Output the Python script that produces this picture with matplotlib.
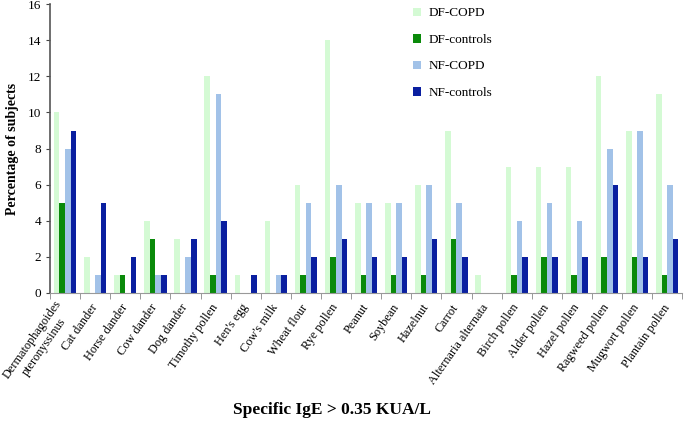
import matplotlib
matplotlib.use("Agg")
import matplotlib.pyplot as plt
import numpy as np

allergens = ["Dermatophagoides\npteronyssinus", "Cat dander", "Horse dander", "Cow dander",
             "Dog dander", "Timothy pollen", "Hen's egg", "Cow's milk", "Wheat flour",
             "Rye pollen", "Peanut", "Soybean", "Hazelnut", "Carrot", "Alternaria alternata",
             "Birch pollen", "Alder pollen", "Hazel pollen", "Ragweed pollen",
             "Mugwort pollen", "Plantain pollen"]
df_copd = [10, 2, 1, 4, 3, 12, 1, 4, 6, 14, 5, 5, 6, 9, 1, 7, 7, 7, 12, 9, 11]
df_controls = [5, 0, 1, 3, 0, 1, 0, 0, 1, 2, 1, 1, 1, 3, 0, 1, 2, 1, 2, 2, 1]
nf_copd = [8, 1, 0, 1, 2, 11, 0, 1, 5, 6, 5, 5, 6, 5, 0, 4, 5, 4, 8, 9, 6]
nf_controls = [9, 5, 2, 1, 3, 4, 1, 1, 2, 3, 2, 2, 3, 2, 0, 2, 2, 2, 6, 2, 3]

series = [("DF-COPD", df_copd, "#d4fad4"),
          ("DF-controls", df_controls, "#0a8a0a"),
          ("NF-COPD", nf_copd, "#a2c2e8"),
          ("NF-controls", nf_controls, "#0a1fa0")]

plt.rcParams["font.family"] = "Liberation Serif"

fig = plt.figure(figsize=(6.85, 4.25), dpi=100)
ax = fig.add_axes([0.073, 0.311, 0.923, 0.679])

x = np.arange(len(allergens))
w = 0.185
for i, (name, vals, col) in enumerate(series):
    ax.bar(x + (i - 1.5) * w, vals, w, color=col, label=name)

ax.set_xlim(-0.5, len(allergens) - 0.5)
ax.set_ylim(0, 16)
ax.set_yticks(np.arange(0, 17, 2))
ax.tick_params(axis="y", labelsize=9.5, length=3, color="#444444")

ax.set_xticks(x)
ax.set_xticklabels(allergens, rotation=55, ha="right", va="center",
                   rotation_mode="anchor", fontsize=8.8, multialignment="center")
ax.tick_params(axis="x", length=0, pad=9)
ax.set_xticks(np.arange(-0.5, len(allergens), 1), minor=True)
ax.tick_params(axis="x", which="minor", length=4, color="#888888")

for s in ["top", "right"]:
    ax.spines[s].set_visible(False)
ax.spines["left"].set_color("#555555")
ax.spines["left"].set_linewidth(1.2)
ax.spines["bottom"].set_color("#999999")

ax.set_ylabel("Percentage of subjects", fontsize=10, fontweight="bold", labelpad=6)
fig.text(0.485, 0.035, "Specific IgE > 0.35 KUA/L", ha="center", va="center",
         fontsize=12.5, fontweight="bold")

leg = ax.legend(loc="upper left", bbox_to_anchor=(0.555, 1.03), frameon=False,
                fontsize=9.5, handlelength=0.6, handleheight=0.6, labelspacing=1.1,
                handletextpad=0.6)

fig.savefig("out.png", dpi=100)
